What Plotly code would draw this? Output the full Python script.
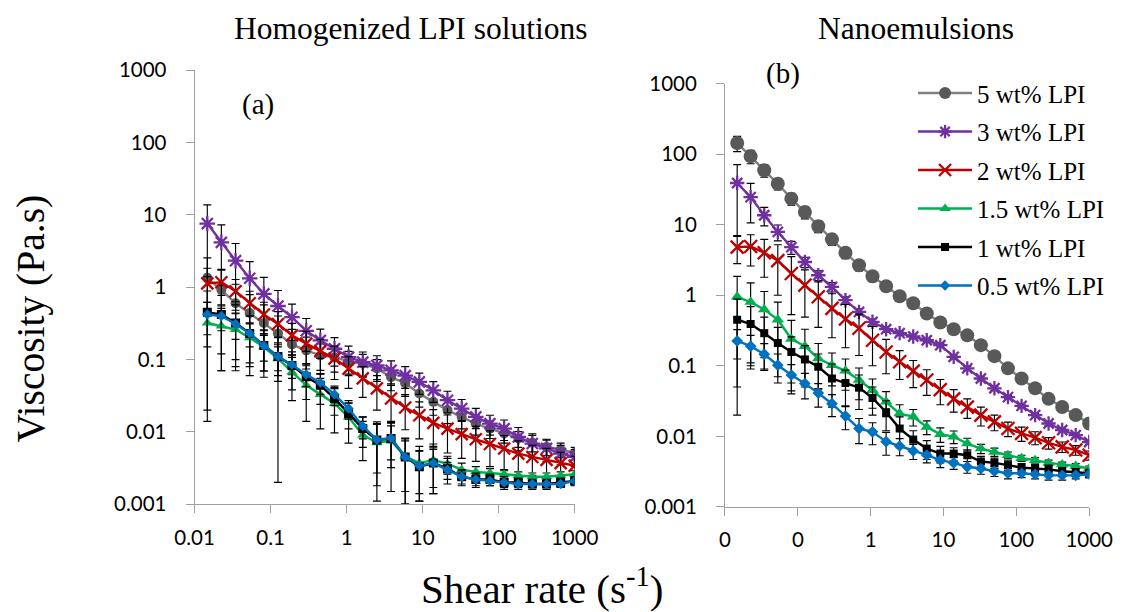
import plotly.graph_objects as go

# Shear rates (1/s), log-spaced sweep
shear_rate = [0.0147, 0.0225, 0.0346, 0.0531, 0.0815, 0.125, 0.191, 0.294, 0.451, 0.692,
              1.06, 1.63, 2.50, 3.84, 5.89, 9.04, 13.8, 21.2, 32.6, 50.0,
              76.7, 118, 181, 277, 426, 653, 1000]

series_names = ["5 wt% LPI", "3 wt% LPI", "2 wt% LPI", "1.5 wt% LPI", "1 wt% LPI", "0.5 wt% LPI"]

# ---- (a) Homogenized LPI solutions: viscosity (Pa.s)
a_5 = [1.35, 0.92, 0.60, 0.44, 0.32, 0.23, 0.162, 0.134, 0.114, 0.107, 0.095, 0.088, 0.075, 0.057,
       0.047, 0.034, 0.026, 0.020, 0.016, 0.013, 0.0111, 0.0095, 0.0081, 0.0071, 0.0062, 0.0057, 0.0051]
a_3 = [7.6, 4.17, 2.33, 1.33, 0.81, 0.55, 0.385, 0.25, 0.184, 0.141, 0.108, 0.092, 0.083, 0.071,
       0.060, 0.049, 0.0376, 0.0274, 0.021, 0.0161, 0.013, 0.0111, 0.0085, 0.0069, 0.0059, 0.0050, 0.0045]
a_2 = [1.13, 1.17, 0.88, 0.60, 0.42, 0.31, 0.216, 0.166, 0.131, 0.103, 0.075, 0.055, 0.040, 0.029,
       0.0217, 0.017, 0.0133, 0.0111, 0.0093, 0.0079, 0.0068, 0.0059, 0.0050, 0.0045, 0.0041, 0.0037, 0.0034]
a_15 = [0.32, 0.29, 0.26, 0.20, 0.149, 0.103, 0.067, 0.044, 0.033, 0.0247, 0.016, 0.0090, 0.0071, 0.0075,
        0.0046, 0.0037, 0.0041, 0.0036, 0.0030, 0.0028, 0.0027, 0.0026, 0.0025, 0.0024, 0.0024, 0.0025, 0.0026]
a_1 = [0.45, 0.42, 0.32, 0.23, 0.157, 0.11, 0.083, 0.058, 0.044, 0.029, 0.018, 0.0111, 0.0077, 0.0081,
       0.0045, 0.0033, 0.0037, 0.0031, 0.0024, 0.0022, 0.0022, 0.0020, 0.0020, 0.0019, 0.0019, 0.0020, 0.0021]
a_05 = [0.42, 0.40, 0.31, 0.23, 0.155, 0.11, 0.085, 0.062, 0.048, 0.033, 0.021, 0.012, 0.0078, 0.0082,
        0.0045, 0.0034, 0.0037, 0.0030, 0.0024, 0.0022, 0.0021, 0.0020, 0.0019, 0.0019, 0.0019, 0.0019, 0.0021]

# error bars (a)
a_5_err = [1.2, 0.8, 0.5, 0.35, 0.25, 0.17, 0.1, 0.07, 0.05, 0.04, 0.035, 0.03, 0.025, 0.02,
           0.016, 0.012, 0.009, 0.007, 0.005, 0.004, 0.003, 0.0025, 0.002, 0.0018, 0.0015, 0.0013, 0.001]
a_3_err = [6.2, 3.1, 1.7, 0.93, 0.56, 0.35, 0.2, 0.12, 0.08, 0.06, 0.045, 0.035, 0.03, 0.025,
           0.02, 0.016, 0.012, 0.009, 0.007, 0.005, 0.004, 0.0035, 0.003, 0.0025, 0.002, 0.0015, 0.0012]
a_2_err = [0.7, 0.6, 0.4, 0.28, 0.2, 0.15, 0.1, 0.08, 0.06, 0.05, 0.035, 0.025, 0.02, 0.015,
           0.011, 0.009, 0.007, 0.006, 0.005, 0.004, 0.0035, 0.003, 0.0025, 0.002, 0.0018, 0.0015, 0.0012]
a_15_err = [0.3, 0.22, 0.18, 0.12, 0.08, 0.101, 0.04, 0.03, 0.022, 0.015, 0.009, 0.005, 0.006, 0.006,
            0.0036, 0.0026, 0.0027, 0.001, 0.0007, 0.0005, 0.0004, 0.0004, 0.0003, 0.0003, 0.0003, 0.0003, 0.0003]
a_1_err = [0.436, 0.35, 0.25, 0.17, 0.1, 0.06, 0.045, 0.03, 0.02, 0.012, 0.007, 0.005, 0.005, 0.004,
           0.0035, 0.0022, 0.0023, 0.0012, 0.0006, 0.0005, 0.0004, 0.0004, 0.0003, 0.0003, 0.0003, 0.0003, 0.0003]
a_05_err = [0.2, 0.15, 0.12, 0.08, 0.06, 0.04, 0.03, 0.02, 0.015, 0.01, 0.006, 0.004, 0.006, 0.005,
            0.003, 0.002, 0.002, 0.0008, 0.0005, 0.0004, 0.0003, 0.0003, 0.0003, 0.0002, 0.0002, 0.0002, 0.0002]

# ---- (b) Nanoemulsions: viscosity (Pa.s)
b_5 = [143.6, 93, 59, 38, 23.4, 15.1, 9.5, 6.2, 4.0, 2.66, 1.86, 1.34, 0.97, 0.77,
       0.55, 0.41, 0.33, 0.27, 0.196, 0.137, 0.092, 0.066, 0.048, 0.034, 0.026, 0.020, 0.0152]
b_3 = [39, 24.6, 13.6, 7.9, 4.8, 2.96, 1.92, 1.31, 0.85, 0.58, 0.42, 0.33, 0.29, 0.26,
       0.23, 0.196, 0.134, 0.092, 0.066, 0.048, 0.036, 0.027, 0.020, 0.0152, 0.0123, 0.0104, 0.0083]
b_2 = [4.8, 4.9, 4.0, 3.1, 2.03, 1.39, 0.95, 0.65, 0.46, 0.34, 0.23, 0.157, 0.114, 0.084,
       0.063, 0.046, 0.034, 0.026, 0.020, 0.016, 0.0129, 0.011, 0.0096, 0.0081, 0.0071, 0.0064, 0.0054]
b_15 = [0.95, 0.80, 0.63, 0.45, 0.24, 0.19, 0.127, 0.102, 0.085, 0.063, 0.045, 0.031, 0.021, 0.019,
        0.0136, 0.0107, 0.0099, 0.0079, 0.0067, 0.0060, 0.0054, 0.0049, 0.0046, 0.0042, 0.0040, 0.0038, 0.0035]
b_1 = [0.45, 0.39, 0.29, 0.21, 0.157, 0.123, 0.097, 0.066, 0.057, 0.049, 0.035, 0.022, 0.0129, 0.009,
       0.0067, 0.0057, 0.0057, 0.0054, 0.0044, 0.0042, 0.0039, 0.0036, 0.0035, 0.0034, 0.0032, 0.0031, 0.0030]
b_05 = [0.225, 0.19, 0.146, 0.102, 0.074, 0.056, 0.041, 0.029, 0.0194, 0.0129, 0.0116, 0.0084, 0.0073, 0.0062,
        0.0054, 0.0046, 0.0042, 0.0037, 0.0035, 0.0032, 0.0030, 0.0030, 0.0029, 0.0028, 0.0028, 0.0028, 0.0029]

# error bars (b)
b_5_err = [35, 20, 12, 7, 4.5, 3, 1.8, 1.1, 0.7, 0.45, 0.3, 0.2, 0.15, 0.12,
           0.08, 0.06, 0.05, 0.04, 0.03, 0.02, 0.012, 0.008, 0.005, 0.004, 0.003, 0.002, 0.0015]
b_3_err = [32, 14, 4, 2, 1, 0.5, 0.3, 0.2, 0.1, 0.06, 0.04, 0.03, 0.02, 0.015,
           0.012, 0.01, 0.008, 0.006, 0.004, 0.003, 0.002, 0.0015, 0.0012, 0.001, 0.0008, 0.0007, 0.0006]
b_2_err = [2.0, 2.3, 2.2, 2.1, 1.5, 0.9, 0.6, 0.4, 0.28, 0.2, 0.13, 0.08, 0.05, 0.035,
           0.025, 0.018, 0.012, 0.008, 0.006, 0.004, 0.003, 0.0025, 0.002, 0.0015, 0.0012, 0.001, 0.0008]
b_15_err = [0.9, 0.7, 0.5, 0.35, 0.2, 0.14, 0.08, 0.05, 0.04, 0.03, 0.02, 0.012, 0.007, 0.005,
            0.003, 0.0025, 0.002, 0.0015, 0.001, 0.0008, 0.0006, 0.0005, 0.0004, 0.0004, 0.0003, 0.0003, 0.0003]
b_1_err = [0.43, 0.3, 0.2, 0.14, 0.1, 0.07, 0.05, 0.04, 0.03, 0.025, 0.015, 0.01, 0.006, 0.003,
           0.002, 0.0015, 0.0012, 0.001, 0.0008, 0.0007, 0.0006, 0.0005, 0.0005, 0.0005, 0.0004, 0.0004, 0.0004]
b_05_err = [0.1, 0.08, 0.06, 0.045, 0.03, 0.022, 0.015, 0.01, 0.007, 0.005, 0.004, 0.003, 0.002, 0.0015,
            0.0012, 0.001, 0.0008, 0.0007, 0.0006, 0.0005, 0.0005, 0.0004, 0.0004, 0.0004, 0.0004, 0.0003, 0.0003]

x_tickvals = [0.01, 0.1, 1, 10, 100, 1000]
xa_ticktext = ["0.01", "0.1", "1", "10", "100", "1000"]
xb_ticktext = ["0", "0", "1", "10", "100", "1000"]
y_tickvals = [0.001, 0.01, 0.1, 1, 10, 100, 1000]
y_ticktext = ["0.001", "0.01", "0.1", "1", "10", "100", "1000"]

# ---------------- styles / layout helpers ----------------
W, H = 1122, 612
# calibrated mapping from target pixel positions to paper fractions
SX, OX = 0.9655, 24.6
SY, OY = 0.961, 20.7


def fx(px):
    return (px - OX) / SX / W


def fy(py):
    return 1 - (py - OY) / SY / H


line_colors = ["#7f7f7f", "#7030A0", "#C00000", "#00B050", "#000000", "#0070C0"]
marker_colors = ["#595959", "#7030A0", "#C00000", "#00B050", "#000000", "#0070C0"]
symbols = ["circle", "asterisk-open", "x-thin-open", "triangle-up", "square", "diamond"]
size_a = [10, 13, 12, 10, 9, 8]
size_b = [14, 12, 13, 11, 8, 9]
legend_sizes = [12, 11, 12, 10, 8, 8]

data_a = [a_5, a_3, a_2, a_15, a_1, a_05]
err_a = [a_5_err, a_3_err, a_2_err, a_15_err, a_1_err, a_05_err]
data_b = [b_5, b_3, b_2, b_15, b_1, b_05]
err_b = [b_5_err, b_3_err, b_2_err, b_15_err, b_1_err, b_05_err]


def marker_style(i, size):
    if symbols[i] in ("asterisk-open", "x-thin-open"):
        return dict(symbol=symbols[i], size=size, color=marker_colors[i],
                    line=dict(color=marker_colors[i], width=2.3))
    return dict(symbol=symbols[i], size=size, color=marker_colors[i],
                line=dict(color=marker_colors[i], width=0))


fig = go.Figure()

for i in range(6):
    fig.add_trace(go.Scatter(
        x=shear_rate, y=data_a[i], mode="lines+markers", name=series_names[i],
        line=dict(color=line_colors[i], width=2.4), marker=marker_style(i, size_a[i]),
        error_y=dict(type="data", array=err_a[i], color="black", thickness=1.15, width=4),
        showlegend=False, xaxis="x", yaxis="y"))

for i in range(6):
    fig.add_trace(go.Scatter(
        x=shear_rate, y=data_b[i], mode="lines+markers", name=series_names[i],
        line=dict(color=line_colors[i], width=2.4), marker=marker_style(i, size_b[i]),
        error_y=dict(type="data", array=err_b[i], color="black", thickness=1.15, width=4),
        showlegend=False, xaxis="x2", yaxis="y2"))

# legend entries
for i in range(6):
    fig.add_trace(go.Scatter(
        x=[None], y=[None], mode="lines+markers", name=series_names[i],
        line=dict(color=line_colors[i], width=2.4), marker=marker_style(i, legend_sizes[i]),
        legendgroup=f"g{i}", showlegend=True, xaxis="x2", yaxis="y2"))

tick_font = dict(family="Lato, Calibri, sans-serif", size=20.5, color="black")
axis_common = dict(type="log", showgrid=False, zeroline=False, showline=True,
                   linecolor="#A0A0A0", linewidth=1, ticks="outside", ticklen=8,
                   tickcolor="#A0A0A0", tickfont=tick_font)

fig.update_layout(
    width=W, height=H,
    margin=dict(l=0, r=0, t=0, b=0),
    paper_bgcolor="white", plot_bgcolor="white",
    showlegend=True,
    xaxis=dict(domain=[fx(192), fx(574)], range=[-2, 3], anchor="y",
               tickvals=x_tickvals, ticktext=xa_ticktext, ticklabelstandoff=7, **axis_common),
    yaxis=dict(domain=[fy(504), fy(70)], range=[-3, 3], anchor="x",
               tickvals=y_tickvals, ticktext=y_ticktext, ticklabelstandoff=15, **axis_common),
    xaxis2=dict(domain=[fx(725), fx(1091)], range=[-2, 3], anchor="y2",
                tickvals=x_tickvals, ticktext=xb_ticktext, ticklabelstandoff=7, **axis_common),
    yaxis2=dict(domain=[fy(506.7), fy(83.3)], range=[-3, 3], anchor="x2",
                tickvals=y_tickvals, ticktext=y_ticktext, ticklabelstandoff=15, **axis_common),
    legend=dict(x=fx(914), y=fy(70), xanchor="left", yanchor="top",
                font=dict(family="Liberation Serif, Times New Roman, serif", size=25, color="black"),
                bgcolor="rgba(0,0,0,0)", itemwidth=54, tracegroupgap=3, traceorder="grouped"),
)

serif = "Liberation Serif, Times New Roman, serif"
annotations = [
    dict(text="Homogenized LPI solutions", x=fx(409), y=fy(28), xref="paper", yref="paper",
         showarrow=False, font=dict(family=serif, size=31.5, color="black"),
         xanchor="center", yanchor="middle"),
    dict(text="Nanoemulsions", x=fx(917), y=fy(28), xref="paper", yref="paper",
         showarrow=False, font=dict(family=serif, size=31.5, color="black"),
         xanchor="center", yanchor="middle"),
    dict(text="(a)", x=fx(256), y=fy(104), xref="paper", yref="paper",
         showarrow=False, font=dict(family=serif, size=29, color="black"),
         xanchor="center", yanchor="middle"),
    dict(text="(b)", x=fx(783), y=fy(73), xref="paper", yref="paper",
         showarrow=False, font=dict(family=serif, size=29, color="black"),
         xanchor="center", yanchor="middle"),
    dict(text="Viscosity (Pa.s)", x=fx(28), y=fy(318), xref="paper", yref="paper",
         showarrow=False, textangle=-90, font=dict(family=serif, size=39.5, color="black"),
         xanchor="center", yanchor="middle"),
    dict(text="Shear rate (s<sup>-1</sup>)", x=fx(541), y=fy(586), xref="paper", yref="paper",
         showarrow=False, font=dict(family=serif, size=41, color="black"),
         xanchor="center", yanchor="middle"),
]
fig.update_layout(annotations=annotations)

fig.write_html("out.html")
